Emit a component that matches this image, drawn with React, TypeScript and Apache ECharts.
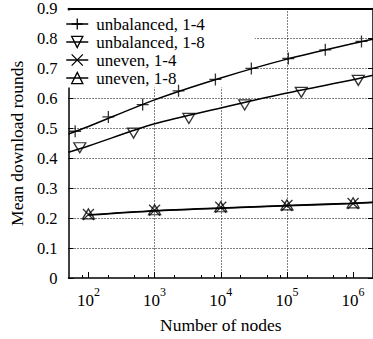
import React, { useEffect, useRef } from 'react';
import * as echarts from 'echarts';

// ---- data ----
const seriesNames = ['unbalanced, 1-4', 'unbalanced, 1-8', 'uneven, 1-4', 'uneven, 1-8'];

const unbalanced14Nodes = [63, 200, 660, 2300, 8300, 29000, 105000, 380000, 1340000];
const unbalanced14Rounds = [0.49, 0.538, 0.579, 0.625, 0.663, 0.7, 0.733, 0.762, 0.79];
const unbalanced18Nodes = [74, 480, 3300, 23000, 165000, 1200000];
const unbalanced18Rounds = [0.435, 0.484, 0.533, 0.578, 0.62, 0.66];
const unevenNodes = [100, 1000, 10000, 100000, 1000000];
const uneven14Rounds = [0.212, 0.226, 0.236, 0.242, 0.249];
const uneven18Rounds = [0.214, 0.228, 0.238, 0.244, 0.251];

// fitted curves drawn through the points
const fitNodes = [50, 100, 1000, 10000, 100000, 1000000, 2000000];
const fitUnbalanced14 = [0.481, 0.506, 0.595, 0.668, 0.731, 0.783, 0.797];
const fitUnbalanced18 = [0.42, 0.441, 0.515, 0.568, 0.618, 0.662, 0.677];
const fitUnevenNodes = [100, 1000, 10000, 100000, 1000000, 2000000];
const fitUneven14 = [0.21, 0.224, 0.233, 0.241, 0.249, 0.252];
const fitUneven18 = [0.211, 0.225, 0.234, 0.242, 0.25, 0.253];

const majorTicks = [100, 1000, 10000, 100000, 1000000];
const minorTicks = [80, 200, 500, 800, 2000, 5000, 8000, 20000, 50000, 80000, 200000, 500000, 800000];

const X_MIN = 50;
const X_MAX = 2000000;

const FONT = 'Liberation Serif';
const PLUS = 'path://M0,6L12,6M6,0L6,12';
const CROSS = 'path://M0,0L12,12M12,0L0,12';

const zip = (xs: number[], ys: number[]) => xs.map((x, i) => [x, ys[i]]);

export default function App() {
  const ref = useRef<HTMLDivElement>(null);
  useEffect(() => {
    if (!ref.current) return;
    const chart = echarts.init(ref.current, null, { renderer: 'svg' });
    const markerStyle = { color: 'none', borderColor: '#000', borderWidth: 1.3 };
    const fitLine = (name: string, xs: number[], ys: number[], symbol: string, size: any, rotate = 0) => ({
      name,
      type: 'line',
      data: zip(xs, ys),
      showSymbol: false,
      symbol,
      symbolSize: size,
      symbolRotate: rotate,
      smooth: 0.3,
      color: '#000',
      lineStyle: { color: '#000', width: 1.5 },
      itemStyle: markerStyle,
      z: 2,
    });
    const markers = (name: string, xs: number[], ys: number[], symbol: string, size: any, rotate = 0) => ({
      name,
      type: 'scatter',
      data: zip(xs, ys),
      symbol,
      symbolSize: size,
      symbolRotate: rotate,
      itemStyle: markerStyle,
      z: 3,
    });
    const sup = (v: number) => {
      const e = Math.round(Math.log10(v));
      return `{b|10}{s|${e}}`;
    };
    chart.setOption({
      animation: false,
      grid: { left: 58, top: 7, right: -1.4, bottom: 55, containLabel: false },
      legend: {
        data: seriesNames,
        orient: 'vertical',
        left: 59.5,
        top: 10.5,
        padding: [5, 50, 1, 6],
        itemWidth: 22,
        itemHeight: 14,
        itemGap: 1,
        backgroundColor: '#fff',
        z: 1,
        textStyle: { fontFamily: FONT, fontSize: 17, color: '#000', padding: [0, 0, 0, 3] },
        itemStyle: { color: 'none', borderColor: '#000', borderWidth: 1.3 },
        lineStyle: { color: '#000', width: 1.5 },
      },
      xAxis: [
        {
          type: 'log',
          logBase: 10,
          min: X_MIN,
          max: X_MAX,
          position: 'bottom',
          name: 'Number of nodes',
          nameLocation: 'middle',
          nameGap: 38,
          nameTextStyle: { fontFamily: FONT, fontSize: 17.5, color: '#000' },
          axisLine: { show: true, lineStyle: { color: '#000', width: 1.5 } },
          axisTick: { show: true, inside: true, length: 6, customValues: majorTicks, lineStyle: { color: '#000', width: 1 } },
          axisLabel: {
            customValues: majorTicks,
            margin: 7.5,
            formatter: (v: number) => sup(v),
            rich: {
              b: { fontFamily: FONT, fontSize: 17, color: '#000', lineHeight: 23, verticalAlign: 'bottom' },
              s: { fontFamily: FONT, fontSize: 12, color: '#000', lineHeight: 12, verticalAlign: 'top' },
            },
          },
          splitLine: {
            show: true,
            showMinLine: false,
            showMaxLine: false,
            lineStyle: { color: '#000', width: 1, type: [1, 2] },
          },
        },
        {
          type: 'log',
          logBase: 10,
          min: X_MIN,
          max: X_MAX,
          position: 'bottom',
          axisLine: { show: false },
          axisTick: { show: true, inside: true, length: 3, customValues: minorTicks, lineStyle: { color: '#000', width: 1 } },
          axisLabel: { show: false },
          splitLine: { show: false },
        },
        {
          type: 'log',
          logBase: 10,
          min: X_MIN,
          max: X_MAX,
          position: 'top',
          z: 5,
          axisLine: { show: true, lineStyle: { color: '#000', width: 2 } },
          axisTick: { show: false },
          axisLabel: { show: false },
          splitLine: { show: false },
        },
      ],
      yAxis: [
        {
          type: 'value',
          min: 0,
          max: 0.9,
          interval: 0.1,
          position: 'left',
          name: 'Mean download rounds',
          nameLocation: 'middle',
          nameGap: 36,
          nameTextStyle: { fontFamily: FONT, fontSize: 17.5, color: '#000' },
          axisLine: { show: true, lineStyle: { color: '#000', width: 1.5 } },
          axisTick: { show: true, inside: true, length: 5, lineStyle: { color: '#000', width: 1 } },
          axisLabel: { fontFamily: FONT, fontSize: 16.5, color: '#000', margin: 11 },
          splitLine: {
            show: true,
            showMinLine: false,
            showMaxLine: false,
            lineStyle: { color: '#000', width: 1, type: [1, 2] },
          },
        },
        {
          type: 'value',
          min: 0,
          max: 0.9,
          interval: 0.1,
          position: 'right',
          axisLine: { show: true, lineStyle: { color: '#000', width: 1.5 } },
          axisTick: { show: true, inside: true, length: 5, lineStyle: { color: '#000', width: 1 } },
          axisLabel: { show: false },
          splitLine: { show: false },
        },
      ],
      series: [
        fitLine(seriesNames[0], fitNodes, fitUnbalanced14, PLUS, 12),
        fitLine(seriesNames[1], fitNodes, fitUnbalanced18, 'triangle', [12, 10], 180),
        fitLine(seriesNames[2], fitUnevenNodes, fitUneven14, CROSS, 11),
        fitLine(seriesNames[3], fitUnevenNodes, fitUneven18, 'triangle', [12, 10]),
        markers('m1', unbalanced14Nodes, unbalanced14Rounds, PLUS, 12),
        markers('m2', unbalanced18Nodes, unbalanced18Rounds, 'triangle', [12, 10], 180),
        markers('m3', unevenNodes, uneven14Rounds, CROSS, 11),
        markers('m4', unevenNodes, uneven18Rounds, 'triangle', [12, 10]),
      ],
    });
    return () => chart.dispose();
  }, []);
  return (
    <div
      ref={ref}
      style={{ position: 'fixed', left: 0, top: 0, width: 373, height: 339, background: '#fff' }}
    />
  );
}
